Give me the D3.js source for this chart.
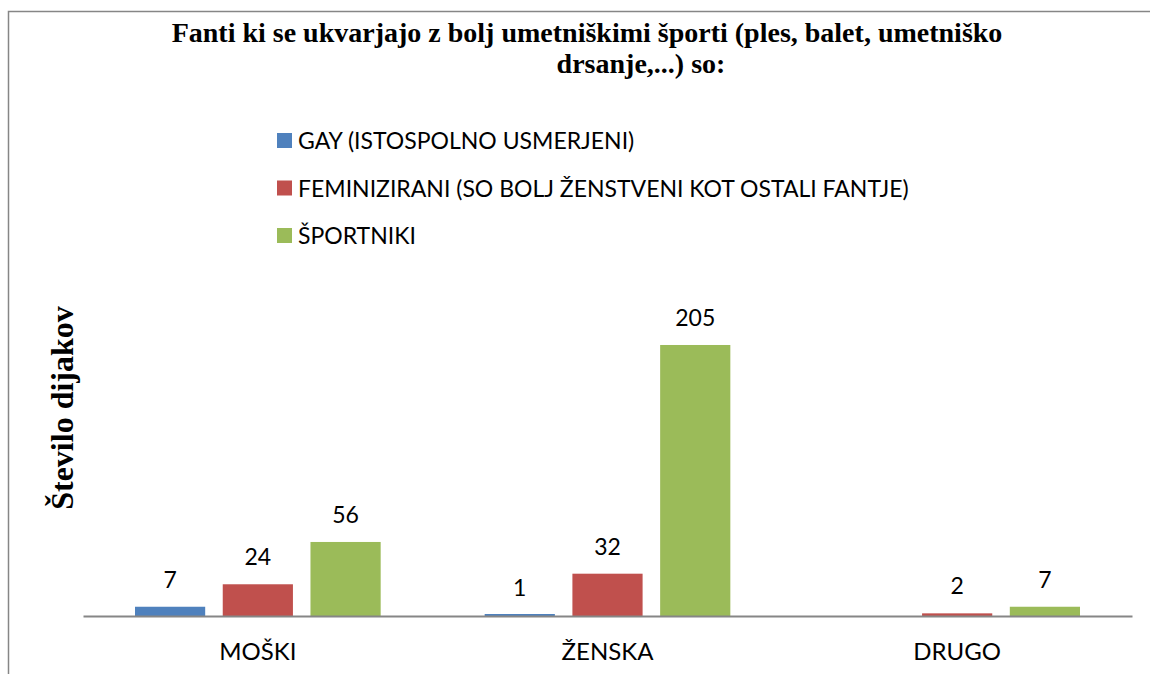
<!DOCTYPE html>
<html>
<head>
<meta charset="utf-8">
<script src="https://cdn.jsdelivr.net/npm/d3@7"></script>
<style>
  body { margin: 0; background: #fff; }
  svg { display: block; }
</style>
</head>
<body>
<div id="chart"></div>
<script>
// Data
const categories = ["MOŠKI", "ŽENSKA", "DRUGO"];
const seriesNames = [
  "GAY (ISTOSPOLNO USMERJENI)",
  "FEMINIZIRANI (SO BOLJ ŽENSTVENI KOT OSTALI FANTJE)",
  "ŠPORTNIKI"
];
const gayValues = [7, 1, 0];
const feminiziraniValues = [24, 32, 2];
const sportnikiValues = [56, 205, 7];
const colors = ["#4f81bd", "#c0504d", "#9bbb59"];

const seriesValues = [gayValues, feminiziraniValues, sportnikiValues];

const W = 1150, H = 674;
const plot = {left: 83, right: 1132, top: 285, bottom: 616};
const sansFont = "Lato, 'Open Sans', sans-serif";
const serifFont = "'Liberation Serif', 'Times New Roman', serif";

const svg = d3.select("#chart")
  .append("svg")
    .attr("width", W)
    .attr("height", H);

// Outer chart border (runs off the picture at right/bottom)
svg.append("rect")
  .attr("x", 8.5)
  .attr("y", 11.5)
  .attr("width", W + 10)
  .attr("height", H + 10)
  .attr("fill", "none")
  .attr("stroke", "#868686")
  .attr("stroke-width", 1.5);

// Scales
const x0 = d3.scaleBand()
  .domain(categories)
  .range([plot.left, plot.right])
  .paddingInner(0)
  .paddingOuter(0);

const x1 = d3.scaleBand()
  .domain(d3.range(seriesNames.length))
  .range([52, x0.bandwidth() - 52])
  .paddingInner(0.2)
  .paddingOuter(0);

const y = d3.scaleLinear()
  .domain([0, 250])
  .range([plot.bottom, plot.bottom - 330.5]);

// Bars
const rows = [];
categories.forEach((c, i) => {
  seriesValues.forEach((vals, s) => rows.push({cat: c, s: s, v: vals[i]}));
});

svg.append("g")
  .selectAll("rect")
  .data(rows.filter(d => d.v > 0))
  .join("rect")
    .attr("x", d => x0(d.cat) + x1(d.s))
    .attr("y", d => Math.min(y(d.v), plot.bottom - 2))
    .attr("width", x1.bandwidth())
    .attr("height", d => Math.max(plot.bottom - y(d.v), 2))
    .attr("fill", d => colors[d.s]);

// Value labels
svg.append("g")
  .selectAll("text")
  .data(rows.filter(d => d.v > 0))
  .join("text")
    .attr("x", d => x0(d.cat) + x1(d.s) + x1.bandwidth() / 2)
    .attr("y", d => y(d.v) - 19)
    .attr("text-anchor", "middle")
    .style("font-family", sansFont)
    .style("font-size", "23px")
    .attr("fill", "#000")
    .text(d => d.v);

// X axis
const xAxis = svg.append("g")
  .attr("transform", `translate(0,${plot.bottom})`)
  .call(d3.axisBottom(x0).tickSize(0).tickPadding(27));
xAxis.select(".domain").attr("stroke", "#868686").attr("stroke-width", 2);
xAxis.selectAll("text")
  .style("font-family", sansFont)
  .style("font-size", "24px")
  .attr("fill", "#000");

// Title
const title = svg.append("text")
  .style("font-family", serifFont)
  .style("font-weight", "bold")
  .style("font-size", "28px")
  .attr("text-anchor", "middle");
title.append("tspan").attr("x", 587).attr("y", 42)
  .text("Fanti ki se ukvarjajo z bolj umetniškimi športi (ples, balet, umetniško");
title.append("tspan").attr("x", 641).attr("y", 73)
  .text("drsanje,...) so:");

// Legend
const legend = svg.append("g")
  .selectAll("g")
  .data(seriesNames)
  .join("g")
    .attr("transform", (d, i) => `translate(277,${140.5 + i * 47.5})`);
legend.append("rect")
  .attr("x", 0).attr("y", -7.5)
  .attr("width", 15).attr("height", 15)
  .attr("fill", (d, i) => colors[i]);
legend.append("text")
  .attr("x", 21).attr("y", 8.5)
  .style("font-family", sansFont)
  .style("font-size", "23px")
  .attr("fill", "#000")
  .text(d => d);

// Y axis label
svg.append("text")
  .attr("transform", "rotate(-90)")
  .attr("x", -408)
  .attr("y", 73)
  .attr("text-anchor", "middle")
  .style("font-family", serifFont)
  .style("font-weight", "bold")
  .style("font-size", "32px")
  .text("Število dijakov");
</script>
</body>
</html>
